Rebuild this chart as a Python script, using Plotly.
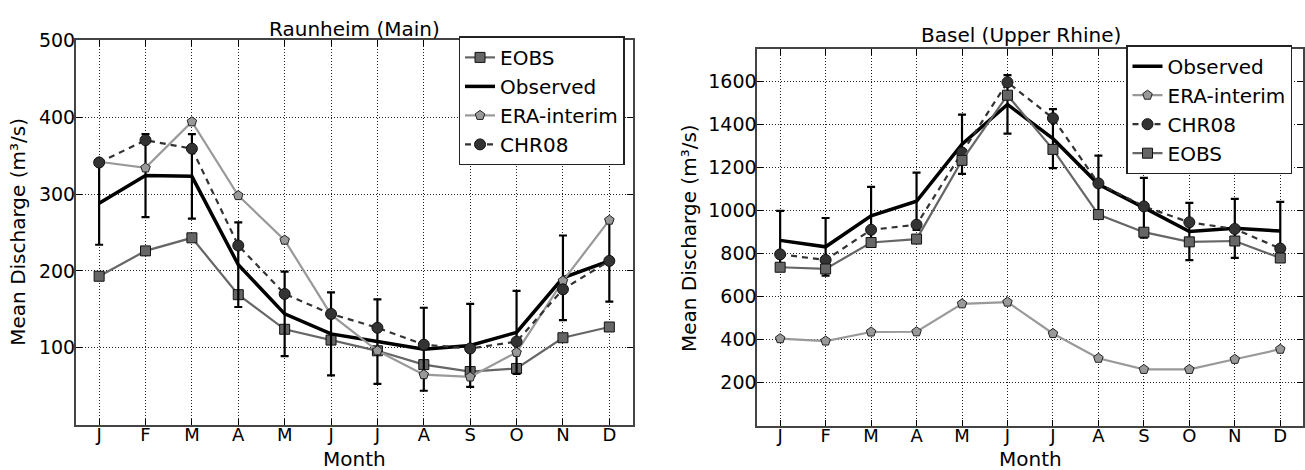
import plotly.graph_objects as go

months = ["J", "F", "M", "A", "M", "J", "J", "A", "S", "O", "N", "D"]
month_idx = list(range(1, 13))

# Raunheim (Main), mean discharge in m3/s
obs_main = [288, 324, 323, 208, 144, 118, 108, 98, 103, 120, 191, 213]
err_main = [54, 54, 55, 55, 55, 54, 55, 54, 54, 54, 55, 53]
eobs_main = [193, 226, 243, 169, 124, 110, 96, 78, 69, 73, 113, 127]
era_main = [342, 334, 394, 298, 240, 143, 96, 65, 62, 94, 187, 266]
chr_main = [341, 370, 359, 233, 170, 144, 126, 104, 99, 108, 176, 213]

# Basel (Upper Rhine), mean discharge in m3/s
obs_basel = [862, 832, 976, 1044, 1309, 1494, 1335, 1123, 1014, 903, 918, 905]
err_basel = [137, 134, 135, 133, 138, 136, 137, 133, 139, 133, 137, 136]
era_basel = [405, 394, 436, 437, 567, 575, 429, 314, 262, 262, 309, 356]
chr_basel = [797, 771, 911, 935, 1270, 1597, 1430, 1127, 1020, 946, 915, 824]
eobs_basel = [737, 729, 852, 868, 1234, 1537, 1285, 982, 900, 855, 859, 780]

FONT = "DejaVu Sans"
W, H = 1305, 470


def obs_trace(y, err, xa, ya, legend):
    return go.Scatter(
        x=month_idx, y=y, name="Observed", mode="lines",
        line=dict(color="black", width=3.5),
        error_y=dict(type="data", array=err, visible=True,
                     color="black", thickness=2.2, width=4),
        xaxis=xa, yaxis=ya, legend=legend,
    )


def eobs_trace(y, xa, ya, legend):
    return go.Scatter(
        x=month_idx, y=y, name="EOBS", mode="lines+markers",
        line=dict(color="#666666", width=2.2),
        marker=dict(symbol="square", size=10, color="#666666",
                    line=dict(color="#111111", width=1)),
        xaxis=xa, yaxis=ya, legend=legend,
    )


def era_trace(y, xa, ya, legend):
    return go.Scatter(
        x=month_idx, y=y, name="ERA-interim", mode="lines+markers",
        line=dict(color="#999999", width=2.2),
        marker=dict(symbol="pentagon", size=10, color="#999999",
                    line=dict(color="#222222", width=1)),
        xaxis=xa, yaxis=ya, legend=legend,
    )


def chr_trace(y, xa, ya, legend):
    return go.Scatter(
        x=month_idx, y=y, name="CHR08", mode="lines+markers",
        line=dict(color="#333333", width=2.2, dash="6px,5px"),
        marker=dict(symbol="circle", size=11, color="#333333",
                    line=dict(color="#111111", width=1)),
        xaxis=xa, yaxis=ya, legend=legend,
    )


traces = [
    eobs_trace(eobs_main, "x", "y", "legend"),
    obs_trace(obs_main, err_main, "x", "y", "legend"),
    era_trace(era_main, "x", "y", "legend"),
    chr_trace(chr_main, "x", "y", "legend"),
    obs_trace(obs_basel, err_basel, "x2", "y2", "legend2"),
    era_trace(era_basel, "x2", "y2", "legend2"),
    chr_trace(chr_basel, "x2", "y2", "legend2"),
    eobs_trace(eobs_basel, "x2", "y2", "legend2"),
]

fig = go.Figure(traces)

GRID = dict(showgrid=True, gridcolor="#222222", gridwidth=1, griddash="1px,2px")
FRAME = dict(showline=True, linecolor="#444444", linewidth=2, mirror="allticks",
             ticks="inside", ticklen=6, tickwidth=1, tickcolor="black",
             zeroline=False)


def xaxis_cfg(x0, x1, anchor):
    return dict(
        domain=[x0 / W, x1 / W], anchor=anchor,
        range=[0.5, 12.5], tickmode="array", tickvals=month_idx, ticktext=months,
        ticklabelstandoff=-7,
        tickfont=dict(family=FONT, size=18, color="black"),
        **GRID, **FRAME,
    )


def yaxis_cfg(top, bottom, anchor, rng, vals):
    return dict(
        domain=[(H - bottom) / H, (H - top) / H], anchor=anchor,
        range=rng, tickmode="array", tickvals=vals,
        ticktext=[str(v) for v in vals],
        ticklabelstandoff=-5,
        tickfont=dict(family=FONT, size=19, color="black"),
        **GRID, **FRAME,
    )


legend_common = dict(
    bgcolor="white", bordercolor="#222222", borderwidth=1.5,
    font=dict(family=FONT, size=20, color="black"),
    xanchor="right", yanchor="top", tracegroupgap=0,
)

fig.update_layout(
    width=W, height=H,
    margin=dict(l=0, r=0, t=0, b=0),
    paper_bgcolor="white", plot_bgcolor="white",
    font=dict(family=FONT, color="black"),
    xaxis=xaxis_cfg(76, 633, "y"),
    yaxis=yaxis_cfg(30, 423.5, "x", [0, 500], [100, 200, 300, 400, 500]),
    xaxis2=xaxis_cfg(758, 1304, "y2"),
    yaxis2=yaxis_cfg(39.3, 424.7, "x2", [0, 1750],
                     [200, 400, 600, 800, 1000, 1200, 1400, 1600]),
    legend=dict(x=625 / W, y=1 - 26 / H, **legend_common),
    legend2=dict(x=1293 / W, y=1 - 35 / H, **legend_common),
    showlegend=True,
)

label_font = dict(family=FONT, size=20, color="black")
annotations = [
    dict(text="Raunheim (Main)", x=354.5 / W, y=1 - 18 / H),
    dict(text="Basel (Upper Rhine)", x=1022 / W, y=1 - 25 / H),
    dict(text="Month", x=354.5 / W, y=1 - 459 / H),
    dict(text="Month", x=1031 / W, y=1 - 459 / H),
    dict(text="Mean Discharge (m³/s)", x=18 / W, y=1 - 226 / H, textangle=-90),
    dict(text="Mean Discharge (m³/s)", x=689 / W, y=1 - 232 / H, textangle=-90),
]
for a in annotations:
    fig.add_annotation(xref="paper", yref="paper", showarrow=False,
                       xanchor="center", yanchor="middle", font=label_font, **a)

fig.write_html("out.html")
